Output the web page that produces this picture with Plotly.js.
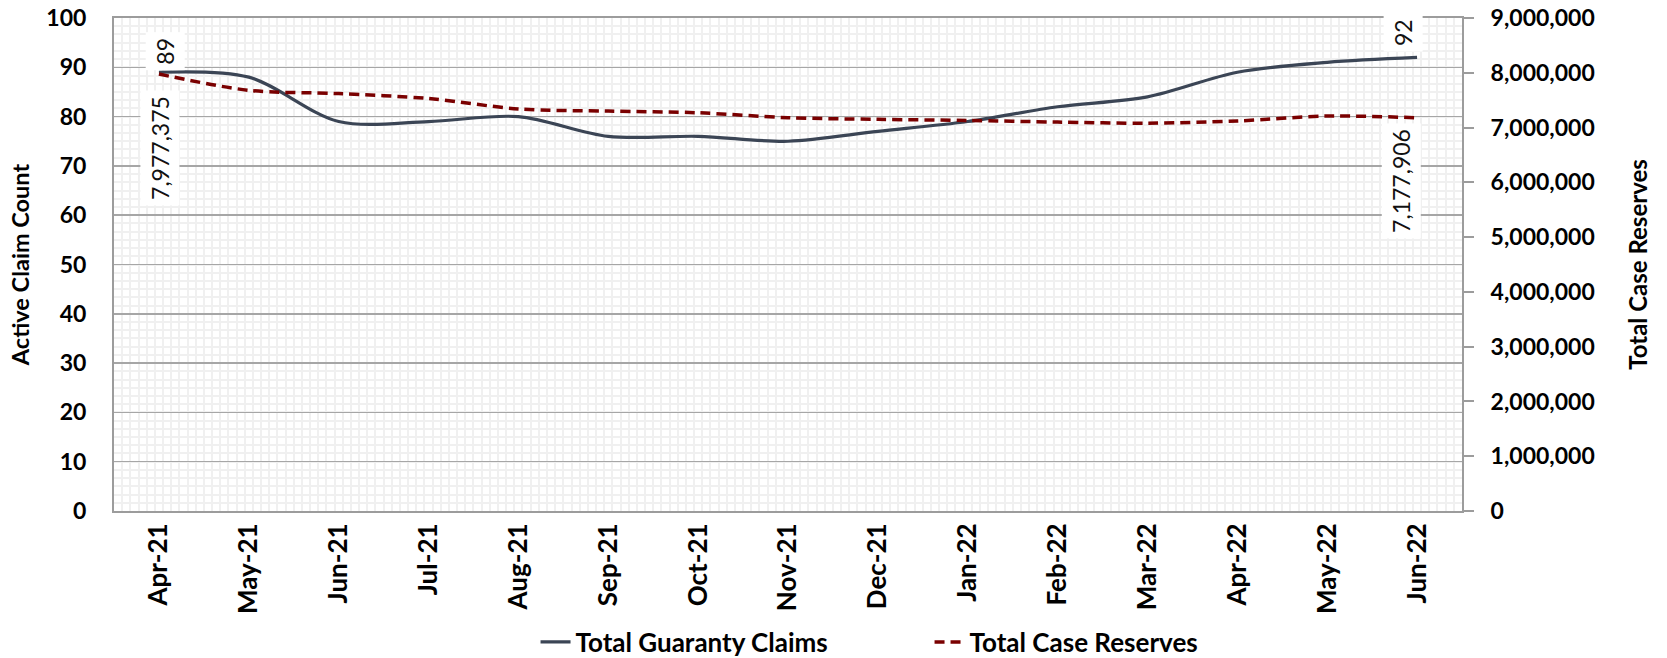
<!DOCTYPE html>
<html>
<head>
<meta charset="utf-8">
<script src="https://cdn.plot.ly/plotly-3.0.1.min.js"></script>
<style>html,body{margin:0;padding:0;background:#fff;}#chart{width:1667px;height:658px;}</style>
</head>
<body>
<div id="chart"></div>
<script>
var months = ['Apr-21','May-21','Jun-21','Jul-21','Aug-21','Sep-21','Oct-21','Nov-21','Dec-21','Jan-22','Feb-22','Mar-22','Apr-22','May-22','Jun-22'];
var guarantyClaims = [89, 88, 79, 79, 80, 76, 76, 75, 77, 79, 82, 84, 89, 91, 92];
var caseReserves = [7977375, 7680000, 7620000, 7530000, 7340000, 7300000, 7270000, 7180000, 7150000, 7130000, 7100000, 7080000, 7120000, 7210000, 7177906];
var leftTicks = [0,10,20,30,40,50,60,70,80,90,100];
var rightTicks = [0,1000000,2000000,3000000,4000000,5000000,6000000,7000000,8000000,9000000];

var xIdx = months.map(function(_, i){ return i; });
var last = months.length - 1;
var FONT = 'Lato, "Open Sans", sans-serif';
var fmt = function(v){ return v.toLocaleString('en-US'); };

var traces = [
  {
    x: xIdx, y: guarantyClaims, name: 'Total Guaranty Claims', type: 'scatter', mode: 'lines',
    line: {color: '#3b4555', width: 3.2, shape: 'spline', smoothing: 0.9},
    yaxis: 'y', hoverinfo: 'skip'
  },
  {
    x: xIdx, y: caseReserves, name: 'Total Case Reserves', type: 'scatter', mode: 'lines',
    line: {color: '#7a0000', width: 3.5, dash: '10px,6px', shape: 'spline', smoothing: 0.9},
    yaxis: 'y2', hoverinfo: 'skip'
  }
];

var labelFont = {family: FONT, size: 23, color: '#111'};
var annotations = [
  {x: 0, y: guarantyClaims[0], xref: 'x', yref: 'y', text: String(guarantyClaims[0]), textangle: -90,
   showarrow: false, xanchor: 'center', yanchor: 'bottom', xshift: 6, yshift: 2,
   bgcolor: '#ffffff', borderpad: 5, font: labelFont},
  {x: 0, y: caseReserves[0], xref: 'x', yref: 'y2', text: fmt(caseReserves[0]), textangle: -90,
   showarrow: false, xanchor: 'center', yanchor: 'top', xshift: 1, yshift: -16,
   bgcolor: '#ffffff', borderpad: 5, font: labelFont},
  {x: last, y: guarantyClaims[last], xref: 'x', yref: 'y', text: String(guarantyClaims[last]), textangle: -90,
   showarrow: false, xanchor: 'center', yanchor: 'bottom', xshift: -14, yshift: 5,
   bgcolor: '#ffffff', borderpad: 5, font: labelFont},
  {x: last, y: caseReserves[last], xref: 'x', yref: 'y2', text: fmt(caseReserves[last]), textangle: -90,
   showarrow: false, xanchor: 'center', yanchor: 'top', xshift: -16, yshift: -5,
   bgcolor: '#ffffff', borderpad: 5, font: labelFont}
];

var layout = {
  width: 1667, height: 658,
  margin: {l: 114, r: 205, t: 18, b: 147, pad: 0},
  paper_bgcolor: '#ffffff', plot_bgcolor: '#ffffff',
  font: {family: FONT, color: '#000'},
  showlegend: true,
  legend: {orientation: 'h', xref: 'paper', x: 0.605, xanchor: 'center',
           yref: 'container', y: 0.0243, yanchor: 'middle', entrywidth: 349,
           font: {family: FONT, size: 26, color: '#000', weight: 'bold'}},
  xaxis: {
    type: 'linear', range: [-0.5, 14.5],
    tickmode: 'array', tickvals: xIdx, ticktext: months, tickangle: -90,
    tickfont: {family: FONT, size: 26, weight: 'bold', color: '#000'},
    ticks: '', ticklabelstandoff: 0,
    showgrid: false, zeroline: false,
    showline: true, linecolor: '#9c9c9c', linewidth: 2, mirror: true,
    minor: {dtick: 1/11, tick0: -0.5, showgrid: true, gridcolor: '#f0f0f0', gridwidth: 2, ticks: ''}
  },
  yaxis: {
    range: [0, 100], tickmode: 'array', tickvals: leftTicks,
    tickfont: {family: FONT, size: 23, weight: 'bold', color: '#000'},
    ticks: '', ticklabelstandoff: 21,
    showgrid: true, gridcolor: '#a6a6a6', gridwidth: 1.5,
    zeroline: false, showline: true, linecolor: '#9c9c9c', linewidth: 2,
    minor: {dtick: 10/6, tick0: 0, showgrid: true, gridcolor: '#f0f0f0', gridwidth: 2, ticks: ''},
    title: {text: 'Active Claim Count', font: {family: FONT, size: 23.5, weight: 'bold', color: '#000'}, standoff: 10}
  },
  yaxis2: {
    overlaying: 'y', side: 'right', anchor: 'x',
    range: [0, 9000000], tickmode: 'array', tickvals: rightTicks, tickformat: ',d',
    tickfont: {family: FONT, size: 23, weight: 'bold', color: '#000'},
    ticks: 'outside', ticklen: 10, tickwidth: 2, tickcolor: '#9c9c9c', ticklabelstandoff: 12,
    showgrid: false, zeroline: false, showline: true, linecolor: '#9c9c9c', linewidth: 2,
    title: {text: 'Total Case Reserves', font: {family: FONT, size: 24, weight: 'bold', color: '#000'}, standoff: 36}
  },
  annotations: annotations
};

Plotly.newPlot('chart', traces, layout, {staticPlot: true, displayModeBar: false});
</script>
</body>
</html>
